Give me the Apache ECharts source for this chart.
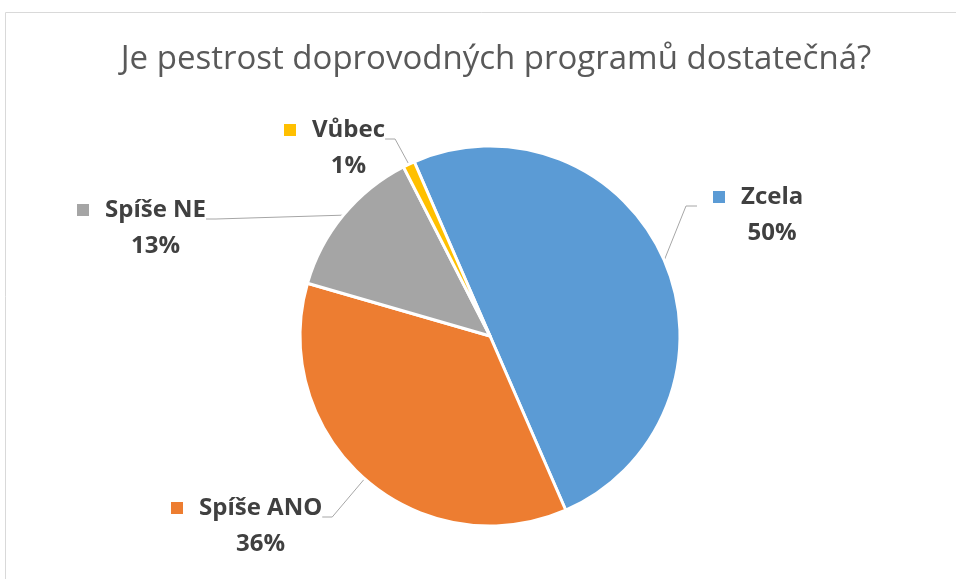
<!DOCTYPE html>
<html>
<head>
<meta charset="utf-8">
<title>Je pestrost doprovodných programů dostatečná?</title>
<script src="https://cdn.jsdelivr.net/npm/echarts@6/dist/echarts.min.js"></script>
<style>
  html, body { margin: 0; padding: 0; background: #fff; }
  #chart { width: 956px; height: 579px; }
</style>
</head>
<body>
<div id="chart"></div>
<script>
// data
const categories = ['Zcela', 'Spíše ANO', 'Spíše NE', 'Vůbec']
const percents = [50, 36, 13, 1]

const palette = ['#5B9BD5', '#ED7D31', '#A5A5A5', '#FFC000']
const font = '"Open Sans", "Noto Sans", sans-serif'
const LINE = 36

// where each label sits: left of the legend key, middle of the first line
const labelSpots = [[713, 197], [171, 508], [77, 210], [284, 130]]

const rich = {
  gap: { width: 16, align: 'left' },
  pad: { width: 28, align: 'left' },
  name: { fontFamily: font, fontSize: 24, fontWeight: 'bold', color: '#404040', lineHeight: LINE, align: 'left' },
  pct: { fontFamily: font, fontSize: 24, fontWeight: 'bold', color: '#404040', lineHeight: LINE, align: 'center' }
}
palette.forEach((c, i) => {
  rich['sq' + i] = { width: 12, height: 12, backgroundColor: c, align: 'left' }
})

const chart = echarts.init(document.getElementById('chart'), null, { renderer: 'canvas' })

const option = {
  animation: false,
  color: palette,
  title: {
    text: 'Je pestrost doprovodných programů dostatečná?',
    left: 491,
    top: 38,
    textAlign: 'center',
    textStyle: {
      fontFamily: font,
      fontSize: 33,
      fontWeight: 'normal',
      color: '#595959'
    }
  },
  graphic: [{
    type: 'rect',
    silent: true,
    z: -10,
    shape: { x: 5.5, y: 12.5, width: 2000, height: 2000 },
    style: { fill: 'none', stroke: '#d9d9d9', lineWidth: 1 }
  }],
  series: [{
    type: 'pie',
    center: [490, 336],
    radius: 190,
    startAngle: 113.5,
    clockwise: true,
    avoidLabelOverlap: false,
    silent: true,
    emphasis: { disabled: true },
    itemStyle: { borderColor: '#fff', borderWidth: 3 },
    label: {
      show: true,
      position: 'outside',
      lineHeight: LINE,
      formatter: p => '{sq' + p.dataIndex + '|}{gap|}{name|' + p.name + '}\n{pad|}{pct|' + p.value + '%}',
      rich: rich
    },
    labelLine: {
      show: true,
      length: 10,
      length2: 10,
      lineStyle: { color: '#a6a6a6', width: 1 }
    },
    labelLayout: function (params) {
      const i = params.dataIndex
      const left = labelSpots[i][0]
      const mid = labelSpots[i][1]
      const w = params.labelRect.width
      const edge = params.labelLinePoints ? params.labelLinePoints[0] : [left, mid]
      const yLine = mid + 9
      let end, bend
      if (i === 0) {
        end = [left - 16, yLine]
        bend = [left - 27, yLine]
      } else {
        end = [left + w, yLine]
        bend = [left + w + 10, yLine]
      }
      return {
        x: left,
        y: mid - LINE / 2,
        align: 'left',
        verticalAlign: 'top',
        labelLinePoints: [edge, bend, end]
      }
    },
    data: categories.map((name, i) => ({ name: name, value: percents[i] }))
  }]
}

chart.setOption(option)

window.addEventListener('resize', () => {
  chart && chart.resize()
})
</script>
</body>
</html>
